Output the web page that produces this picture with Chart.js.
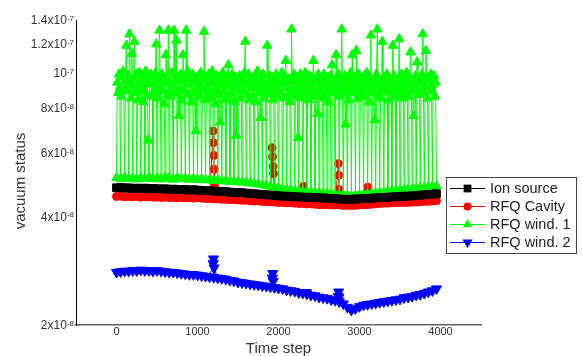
<!DOCTYPE html>
<html>
<head>
<meta charset="utf-8">
<script src="https://cdn.jsdelivr.net/npm/chart.js@4"></script>
<style>
  body { margin: 0; background: #fff; }
  canvas { display: block; }
</style>
</head>
<body>
<canvas id="vacChart" width="582" height="356"></canvas>
<script>
// --- DATA (pressure values in units of 1e-8) ---
const seriesNames = ['Ion source', 'RFQ Cavity', 'RFQ wind. 1', 'RFQ wind. 2'];

// time steps shared by the three smooth gauges
const steps = [
    0, 50, 100, 150, 200, 250, 300, 350, 400, 450, 500, 550, 600, 650, 700, 750, 800, 850, 900, 950,
    1000, 1050, 1100, 1150, 1200, 1250, 1300, 1350, 1400, 1450, 1500, 1550, 1600, 1650, 1700, 1750, 1800, 1850, 1900, 1950,
    2000, 2050, 2100, 2150, 2200, 2250, 2300, 2350, 2400, 2450, 2500, 2550, 2600, 2650, 2700, 2750, 2800, 2850, 2900, 2950,
    3000, 3050, 3100, 3150, 3200, 3250, 3300, 3350, 3400, 3450, 3500, 3550, 3600, 3650, 3700, 3750, 3800, 3850, 3900, 3950
];

const ionSource = [
    4.80, 4.81, 4.79, 4.80, 4.78, 4.79, 4.78, 4.79, 4.77, 4.78, 4.77, 4.76, 4.77, 4.75, 4.76, 4.75, 4.74, 4.75, 4.73, 4.74,
    4.73, 4.72, 4.71, 4.71, 4.70, 4.69, 4.69, 4.68, 4.67, 4.66, 4.66, 4.65, 4.64, 4.63, 4.62, 4.61, 4.60, 4.59, 4.58, 4.57,
    4.56, 4.55, 4.55, 4.54, 4.53, 4.53, 4.52, 4.52, 4.51, 4.51, 4.50, 4.50, 4.49, 4.48, 4.48, 4.47, 4.46, 4.46, 4.46, 4.47,
    4.47, 4.48, 4.48, 4.49, 4.50, 4.51, 4.51, 4.52, 4.53, 4.53, 4.54, 4.55, 4.55, 4.56, 4.57, 4.58, 4.59, 4.60, 4.61, 4.62
];

const rfqCavity = [
    4.54, 4.55, 4.53, 4.54, 4.53, 4.54, 4.52, 4.53, 4.53, 4.52, 4.52, 4.51, 4.52, 4.51, 4.51, 4.50, 4.51, 4.50, 4.50, 4.49,
    4.50, 4.49, 4.48, 4.48, 4.47, 4.47, 4.46, 4.46, 4.45, 4.45, 4.44, 4.43, 4.43, 4.42, 4.41, 4.41, 4.40, 4.39, 4.39, 4.38,
    4.37, 4.37, 4.36, 4.36, 4.35, 4.34, 4.34, 4.33, 4.33, 4.32, 4.31, 4.31, 4.31, 4.30, 4.30, 4.30, 4.29, 4.29, 4.29, 4.29,
    4.30, 4.31, 4.31, 4.32, 4.33, 4.34, 4.35, 4.35, 4.36, 4.36, 4.37, 4.37, 4.37, 4.38, 4.38, 4.39, 4.40, 4.40, 4.41, 4.42
];
// short bursts on the cavity gauge
const cavitySpikeSteps = [1192, 1196, 1203, 1207, 1212, 1922, 1927, 1933, 1938, 2312, 2738, 2743, 2747, 3104];
const cavitySpikeValues = [6.9, 6.4, 5.9, 5.4, 4.85, 6.2, 5.85, 5.5, 5.25, 4.85, 5.6, 5.2, 4.75, 4.82];

const rfqWind2 = [
    2.80, 2.81, 2.82, 2.82, 2.83, 2.83, 2.84, 2.83, 2.83, 2.82, 2.83, 2.82, 2.81, 2.80, 2.80, 2.79, 2.78, 2.77, 2.76, 2.76,
    2.75, 2.74, 2.73, 2.72, 2.71, 2.70, 2.69, 2.68, 2.66, 2.65, 2.63, 2.62, 2.61, 2.60, 2.59, 2.58, 2.57, 2.56, 2.55, 2.54,
    2.53, 2.52, 2.50, 2.49, 2.48, 2.46, 2.45, 2.44, 2.42, 2.41, 2.39, 2.38, 2.37, 2.35, 2.34, 2.32, 2.29, 2.24, 2.20, 2.22,
    2.25, 2.27, 2.28, 2.29, 2.30, 2.31, 2.32, 2.33, 2.34, 2.35, 2.36, 2.38, 2.39, 2.40, 2.42, 2.43, 2.45, 2.47, 2.49, 2.52
];
const wind2SpikeSteps = [1193, 1198, 1204, 1924, 1929, 1934, 2342, 2737, 2742, 2746];
const wind2SpikeValues = [2.96, 3.05, 2.88, 2.70, 2.78, 2.64, 2.46, 2.40, 2.47, 2.38];

// window 1 gauge: drops to its base every 50 steps, noisy upper level in between
const wind1Steps = [
    0, 10, 20, 30, 40, 50, 60, 70, 80, 90, 100, 110, 120, 130, 140, 150, 160, 170, 180, 190,
    200, 210, 220, 230, 240, 250, 260, 270, 280, 290, 300, 310, 320, 330, 340, 350, 360, 370, 380, 390,
    400, 410, 420, 430, 440, 450, 460, 470, 480, 490,
    500, 510, 520, 530, 540, 550, 560, 570, 580, 590, 600, 610, 620, 630, 640, 650, 660, 670, 680, 690,
    700, 710, 720, 730, 740, 750, 760, 770, 780, 790, 800, 810, 820, 830, 840, 850, 860, 870, 880, 890,
    900, 910, 920, 930, 940, 950, 960, 970, 980, 990,
    1000, 1010, 1020, 1030, 1040, 1050, 1060, 1070, 1080, 1090, 1100, 1110, 1120, 1130, 1140, 1150, 1160, 1170, 1180, 1190,
    1200, 1210, 1220, 1230, 1240, 1250, 1260, 1270, 1280, 1290, 1300, 1310, 1320, 1330, 1340, 1350, 1360, 1370, 1380, 1390,
    1400, 1410, 1420, 1430, 1440, 1450, 1460, 1470, 1480, 1490,
    1500, 1510, 1520, 1530, 1540, 1550, 1560, 1570, 1580, 1590, 1600, 1610, 1620, 1630, 1640, 1650, 1660, 1670, 1680, 1690,
    1700, 1710, 1720, 1730, 1740, 1750, 1760, 1770, 1780, 1790, 1800, 1810, 1820, 1830, 1840, 1850, 1860, 1870, 1880, 1890,
    1900, 1910, 1920, 1930, 1940, 1950, 1960, 1970, 1980, 1990,
    2000, 2010, 2020, 2030, 2040, 2050, 2060, 2070, 2080, 2090, 2100, 2110, 2120, 2130, 2140, 2150, 2160, 2170, 2180, 2190,
    2200, 2210, 2220, 2230, 2240, 2250, 2260, 2270, 2280, 2290, 2300, 2310, 2320, 2330, 2340, 2350, 2360, 2370, 2380, 2390,
    2400, 2410, 2420, 2430, 2440, 2450, 2460, 2470, 2480, 2490,
    2500, 2510, 2520, 2530, 2540, 2550, 2560, 2570, 2580, 2590, 2600, 2610, 2620, 2630, 2640, 2650, 2660, 2670, 2680, 2690,
    2700, 2710, 2720, 2730, 2740, 2750, 2760, 2770, 2780, 2790, 2800, 2810, 2820, 2830, 2840, 2850, 2860, 2870, 2880, 2890,
    2900, 2910, 2920, 2930, 2940, 2950, 2960, 2970, 2980, 2990,
    3000, 3010, 3020, 3030, 3040, 3050, 3060, 3070, 3080, 3090, 3100, 3110, 3120, 3130, 3140, 3150, 3160, 3170, 3180, 3190,
    3200, 3210, 3220, 3230, 3240, 3250, 3260, 3270, 3280, 3290, 3300, 3310, 3320, 3330, 3340, 3350, 3360, 3370, 3380, 3390,
    3400, 3410, 3420, 3430, 3440, 3450, 3460, 3470, 3480, 3490,
    3500, 3510, 3520, 3530, 3540, 3550, 3560, 3570, 3580, 3590, 3600, 3610, 3620, 3630, 3640, 3650, 3660, 3670, 3680, 3690,
    3700, 3710, 3720, 3730, 3740, 3750, 3760, 3770, 3780, 3790, 3800, 3810, 3820, 3830, 3840, 3850, 3860, 3870, 3880, 3890,
    3900, 3910, 3920, 3930, 3940, 3950
];
const rfqWind1 = [
    5.12, 9.4, 8.8, 9.9, 9.1, 5.08, 8.6, 9.7, 10.1, 9.0, 5.13, 9.5, 11.9, 8.9, 9.8, 5.09, 12.8, 9.3, 8.5, 11.3,
    5.11, 9.6, 12.2, 8.8, 9.9, 5.07, 9.2, 8.4, 10.0, 9.5, 5.12, 8.9, 9.8, 8.3, 9.4, 5.09, 10.1, 8.7, 9.6, 6.5,
    5.13, 9.3, 9.9, 8.6, 9.7, 5.08, 8.8, 9.4, 10.0, 12.0,
    5.11, 9.1, 8.5, 13.1, 9.6, 5.07, 9.9, 8.9, 9.3, 8.2, 5.12, 11.2, 9.7, 8.7, 13.1, 5.10, 9.4, 8.6, 10.0, 9.2,
    5.06, 13.1, 8.8, 9.8, 12.3, 5.11, 9.5, 7.6, 9.0, 9.9, 5.08, 8.4, 11.2, 9.6, 8.9, 5.09, 13.1, 9.3, 10.1, 8.7,
    5.06, 9.7, 8.3, 9.4, 9.9, 5.08, 8.8, 9.5, 6.9, 9.1,
    5.05, 9.8, 8.6, 9.3, 10.0, 5.07, 8.9, 9.6, 13.0, 8.4, 5.04, 9.7, 9.1, 8.7, 9.9, 5.05, 8.5, 9.4, 10.1, 8.8,
    5.02, 9.6, 8.2, 9.0, 9.8, 5.04, 8.7, 9.5, 7.3, 9.3, 5.01, 10.0, 8.9, 9.6, 8.4, 5.02, 9.2, 9.8, 10.5, 8.6,
    4.99, 9.4, 8.8, 9.9, 9.1, 5.00, 8.3, 9.7, 6.7, 9.5,
    4.98, 9.0, 9.8, 8.5, 9.4, 4.97, 8.9, 9.6, 10.0, 12.2, 4.96, 9.3, 8.7, 9.9, 8.4, 4.95, 9.7, 9.1, 8.6, 9.5,
    4.93, 9.8, 8.3, 9.4, 10.1, 4.91, 8.8, 9.6, 7.5, 9.2, 4.89, 9.9, 8.5, 9.3, 8.9, 4.87, 11.9, 9.5, 8.7, 9.8,
    4.84, 9.0, 9.7, 8.4, 9.4, 4.82, 8.8, 9.9, 9.2, 8.6,
    4.80, 9.6, 8.9, 9.3, 10.0, 4.77, 8.5, 9.4, 9.8, 10.8, 4.75, 9.1, 8.7, 9.6, 8.3, 4.74, 13.2, 9.5, 8.8, 9.9,
    4.72, 9.2, 8.6, 9.7, 6.6, 4.71, 9.4, 9.9, 8.5, 9.0, 4.69, 8.9, 9.6, 10.0, 8.7, 4.68, 9.3, 8.4, 9.8, 9.1,
    4.66, 9.7, 8.8, 10.8, 9.4, 4.65, 8.6, 9.5, 7.7, 9.9,
    4.64, 9.0, 9.6, 8.7, 9.3, 4.63, 9.9, 8.5, 9.4, 8.9, 4.62, 9.7, 8.3, 9.1, 9.8, 4.61, 10.5, 8.8, 9.5, 9.0,
    4.59, 11.2, 9.6, 8.6, 9.9, 4.58, 9.2, 8.7, 13.2, 9.4, 4.57, 8.9, 9.8, 7.2, 9.3, 4.56, 9.6, 8.4, 9.0, 10.0,
    4.55, 11.2, 9.1, 8.8, 9.7, 4.56, 11.5, 9.4, 8.5, 9.9,
    4.58, 8.7, 9.5, 9.2, 8.9, 4.59, 9.8, 8.6, 9.4, 10.0, 4.60, 9.1, 8.3, 9.7, 12.7, 4.62, 9.3, 8.8, 9.6, 7.4,
    4.63, 9.9, 13.2, 8.7, 9.2, 4.65, 9.5, 8.5, 12.2, 9.0, 4.66, 9.7, 8.9, 9.4, 9.9, 4.68, 8.4, 9.6, 9.1, 8.8,
    4.69, 11.9, 9.3, 9.8, 8.6, 4.71, 9.5, 9.0, 8.7, 12.4,
    4.72, 9.2, 9.9, 8.5, 9.6, 4.73, 8.8, 9.4, 10.0, 9.1, 4.75, 8.6, 9.7, 11.4, 9.3, 4.76, 8.9, 7.6, 9.5, 9.8,
    4.78, 10.7, 9.0, 8.7, 9.6, 4.79, 9.4, 9.9, 12.8, 8.8, 4.81, 9.2, 11.5, 9.7, 8.5, 4.82, 9.6, 9.1, 9.9, 8.9,
    4.84, 9.3, 9.8, 8.6, 9.4, 4.85
];

// axis ticks
const xTickValues = [0, 1000, 2000, 3000, 4000];
const yTickValues = [2e-8, 4e-8, 6e-8, 8e-8, 1e-7, 1.2e-7, 1.4e-7];
const yTickBase = ['2x10', '4x10', '6x10', '8x10', '10', '1.2x10', '1.4x10'];
const yTickExp = ['-8', '-8', '-8', '-8', '-7', '-7', '-7'];

const FONT = '"Liberation Sans", Arial, sans-serif';
const colors = ['#000000', '#ff0000', '#00ff00', '#0000ff'];
const markers = [
    { style: 'rect', radius: 5.5, rotation: 0 },
    { style: 'circle', radius: 4, rotation: 0 },
    { style: 'triangle', radius: 5.5, rotation: 0 },
    { style: 'triangle', radius: 5.8, rotation: 180 }
];
// drawing order: lower is on top (window 1 covers the cavity bursts)
const drawOrder = [0, 2, 1, 3];

function toPoints(xs, ys, extraX, extraY) {
    const pts = xs.map((x, i) => ({ x: x, y: ys[i] * 1e-8 }));
    if (extraX) {
        extraX.forEach((x, i) => pts.push({ x: x, y: extraY[i] * 1e-8 }));
    }
    pts.sort((a, b) => a.x - b.x);
    return pts;
}

function makeDataset(i, data) {
    return {
        label: seriesNames[i],
        data: data,
        order: drawOrder[i],
        borderColor: colors[i],
        backgroundColor: colors[i],
        pointBackgroundColor: colors[i],
        pointBorderColor: colors[i],
        pointBorderWidth: 1,
        borderWidth: 1,
        pointStyle: markers[i].style,
        pointRadius: markers[i].radius,
        pointRotation: markers[i].rotation,
        tension: 0,
        fill: false
    };
}

function drawMarker(ctx, m, x, y, color) {
    ctx.fillStyle = color;
    ctx.beginPath();
    if (m.style === 'rect') {
        const s = m.radius * Math.SQRT1_2;
        ctx.rect(x - s, y - s, 2 * s, 2 * s);
    } else if (m.style === 'circle') {
        ctx.arc(x, y, m.radius, 0, Math.PI * 2);
    } else {
        let rad = m.rotation * Math.PI / 180;
        for (let k = 0; k < 3; k++) {
            const px = x + Math.sin(rad) * m.radius;
            const py = y - Math.cos(rad) * m.radius;
            if (k === 0) ctx.moveTo(px, py); else ctx.lineTo(px, py);
            rad += 2 * Math.PI / 3;
        }
        ctx.closePath();
    }
    ctx.fill();
}

// tick labels, axis titles and the boxed legend
const decorations = {
    id: 'decorations',
    afterDraw(chart) {
        const ctx = chart.ctx;
        const area = chart.chartArea;
        const xs = chart.scales.x;
        const ys = chart.scales.y;
        ctx.save();
        ctx.fillStyle = '#333';

        yTickValues.forEach((v, i) => {
            const py = ys.getPixelForValue(v);
            ctx.textAlign = 'right';
            ctx.font = '8px ' + FONT;
            const ew = ctx.measureText(yTickExp[i]).width;
            ctx.textBaseline = 'alphabetic';
            ctx.fillText(yTickExp[i], area.left - 2, py + 1);
            ctx.font = '12px ' + FONT;
            ctx.textBaseline = 'middle';
            ctx.fillText(yTickBase[i], area.left - 2 - ew, py + 1);
        });

        ctx.font = '11px ' + FONT;
        ctx.textAlign = 'center';
        ctx.textBaseline = 'top';
        xTickValues.forEach(v => {
            ctx.fillText(String(v), xs.getPixelForValue(v), area.bottom + 1);
        });

        ctx.font = '15px ' + FONT;
        ctx.textBaseline = 'middle';
        ctx.fillText('Time step', (area.left + area.right) / 2, 349);
        ctx.save();
        ctx.translate(20.5, 181);
        ctx.rotate(-Math.PI / 2);
        ctx.fillText('vacuum status', 0, 0);
        ctx.restore();

        // legend
        ctx.fillStyle = '#fff';
        ctx.fillRect(446.5, 177.5, 130, 76);
        ctx.strokeStyle = '#444';
        ctx.lineWidth = 1;
        ctx.strokeRect(446.5, 177.5, 130, 76);
        const rows = [188, 206, 224, 242];
        ctx.font = '14.5px ' + FONT;
        ctx.textAlign = 'left';
        seriesNames.forEach((name, i) => {
            const y = rows[i];
            ctx.strokeStyle = colors[i];
            ctx.beginPath();
            ctx.moveTo(450, y + 0.5);
            ctx.lineTo(485, y + 0.5);
            ctx.stroke();
            drawMarker(ctx, markers[i], 467.5, y + 0.5, colors[i]);
            ctx.fillStyle = '#222';
            ctx.fillText(name, 490, y + 1);
        });
        ctx.restore();
    }
};

new Chart(document.getElementById('vacChart').getContext('2d'), {
    type: 'line',
    data: {
        datasets: [
            makeDataset(0, toPoints(steps, ionSource)),
            makeDataset(1, toPoints(steps, rfqCavity, cavitySpikeSteps, cavitySpikeValues)),
            makeDataset(2, toPoints(wind1Steps, rfqWind1)),
            makeDataset(3, toPoints(steps, rfqWind2, wind2SpikeSteps, wind2SpikeValues))
        ]
    },
    options: {
        responsive: false,
        animation: false,
        layout: { padding: { left: 76, top: 20, right: 101, bottom: 31 } },
        plugins: {
            legend: { display: false },
            tooltip: { enabled: false }
        },
        scales: {
            x: {
                type: 'linear',
                min: -500,
                max: 4500,
                grid: { display: false, drawTicks: false },
                border: { display: true, color: '#666', width: 1.5 },
                ticks: { display: false }
            },
            y: {
                type: 'logarithmic',
                min: 2e-8,
                max: 1.4e-7,
                grid: { display: false, drawTicks: false },
                border: { display: true, color: '#000', width: 1 },
                ticks: { display: false }
            }
        }
    },
    plugins: [decorations]
});
</script>
</body>
</html>
